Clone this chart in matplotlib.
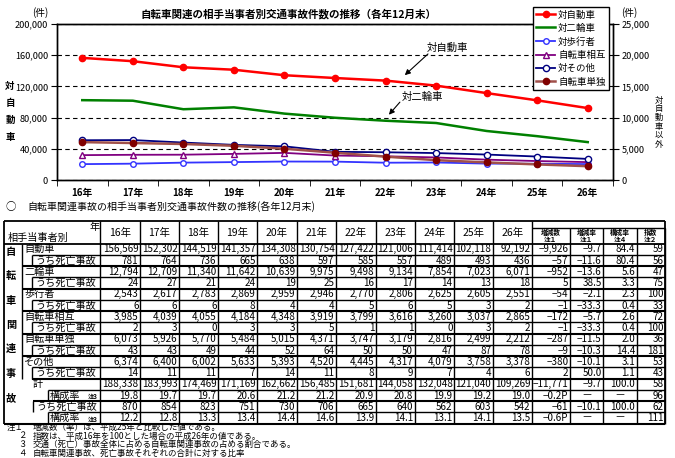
import matplotlib.pyplot as plt
import numpy as np

plt.rcParams['font.family'] = ['Noto Sans CJK JP', 'DejaVu Sans']

years = ['16年', '17年', '18年', '19年', '20年', '21年', '22年', '23年', '24年', '25年', '26年']

# accidents by partner (left axis: car, right axis: others)
car = [156569, 152302, 144519, 141357, 134308, 130754, 127422, 121006, 111414, 102118, 92192]
moto = [12794, 12709, 11340, 11642, 10639, 9975, 9498, 9134, 7854, 7023, 6071]
walker = [2543, 2617, 2783, 2869, 2959, 2946, 2770, 2806, 2625, 2605, 2551]
mutual = [3985, 4039, 4055, 4184, 4348, 3919, 3799, 3616, 3260, 3037, 2865]
other = [6374, 6400, 6002, 5633, 5393, 4520, 4445, 4317, 4079, 3758, 3378]
single = [6073, 5926, 5770, 5484, 5015, 4371, 3747, 3179, 2816, 2499, 2212]

# fatal accidents
car_dead = [781, 764, 736, 665, 638, 597, 585, 557, 489, 493, 436]
moto_dead = [24, 27, 21, 24, 19, 25, 16, 17, 14, 13, 18]
walker_dead = [6, 6, 6, 8, 4, 4, 5, 6, 5, 3, 2]
mutual_dead = [2, 3, 0, 3, 3, 5, 1, 1, 0, 3, 2]
single_dead = [43, 43, 49, 44, 52, 64, 50, 50, 47, 87, 78]
other_dead = [14, 11, 11, 7, 14, 11, 8, 9, 7, 4, 6]
total = [188338, 183993, 174469, 171169, 162662, 156485, 151681, 144058, 132048, 121040, 109269]
total_share = [19.8, 19.7, 19.7, 20.6, 21.2, 21.2, 20.9, 20.8, 19.9, 19.2, 19.0]
dead_total = [870, 854, 823, 751, 730, 706, 665, 640, 562, 603, 542]
dead_share = [12.2, 12.8, 13.3, 13.4, 14.4, 14.6, 13.9, 14.1, 13.1, 14.1, 13.5]

row_labels = ['自動車', 'うち死亡事故', '二輪車', 'うち死亡事故', '歩行者', 'うち死亡事故',
              '自転車相互', 'うち死亡事故', '自転車単独', 'うち死亡事故', 'その他', 'うち死亡事故',
              '計', '構成率', 'うち死亡事故', '構成率']
rows = [car, car_dead, moto, moto_dead, walker, walker_dead, mutual, mutual_dead,
        single, single_dead, other, other_dead, total, total_share, dead_total, dead_share]
rate_rows = [13, 15]

diff_count = [-9926, -57, -952, 5, -54, -1, -172, -1, -287, -9, -380, 2, -11771, -0.2, -61, -0.6]
diff_rate = [-9.7, -11.6, -13.6, 38.5, -2.1, -33.3, -5.7, -33.3, -11.5, -10.3, -10.1, 50.0, -9.7, None, -10.1, None]
share = [84.4, 80.4, 5.6, 3.3, 2.3, 0.4, 2.6, 0.4, 2.0, 14.4, 3.1, 1.1, 100.0, None, 100.0, None]
index = [59, 56, 47, 75, 100, 33, 72, 100, 36, 181, 53, 43, 58, 96, 62, 111]
extra_head = [('増減数', '注１'), ('増減率', '注１'), ('構成率', '注４'), ('指数', '注２')]

notes = ['注１', '２', '３', '４']
note_text = ['増減数（率）は、平成25年と比較した値である。',
             '指数は、平成16年を100とした場合の平成26年の値である。',
             '交通（死亡）事故全体に占める自転車関連事故の占める割合である。',
             '自転車関連事故、死亡事故それぞれの合計に対する比率']

fig = plt.figure(figsize=(6.75, 4.58), dpi=100)
W, H = 675, 458

# ---------------- chart ----------------
ax = fig.add_axes([57 / W, 1 - 180 / H, 556 / W, 156 / H])
x = np.arange(len(years))
l1, = ax.plot(x, car, color='#FF0000', lw=1.8, marker='o', ms=4.5, label='対自動車')
ax.set_xlim(-0.5, len(years) - 0.5)
ax.set_ylim(0, 200000)
ax.set_yticks(np.arange(0, 200001, 40000))
ax.yaxis.set_major_formatter(lambda v, p: f'{int(v):,}')
ax.grid(axis='y', color='k', ls=(0, (4, 3)), lw=0.8)
ax.set_xticks(x)
ax.set_xticklabels(years, fontsize=7, fontweight='bold')
ax.set_xticks(np.arange(-0.5, len(years), 1), minor=True)
ax.tick_params(axis='x', which='major', length=0, pad=6)
ax.tick_params(axis='x', which='minor', length=4)
ax.tick_params(axis='y', labelsize=6.6, length=4, pad=2.5)

ax2 = ax.twinx()
ax2.set_ylim(0, 25000)
ax2.set_yticks(np.arange(0, 25001, 5000))
ax2.yaxis.set_major_formatter(lambda v, p: f'{int(v):,}')
ax2.tick_params(axis='y', labelsize=6.6, length=4, pad=2)
l2, = ax2.plot(x, moto, color='#008000', lw=1.8, label='対二輪車')
l3, = ax2.plot(x, walker, color='#3333FF', lw=1.3, marker='o', ms=4, mfc='white', mew=1, label='対歩行者')
l4, = ax2.plot(x, mutual, color='#800080', lw=1.3, marker='^', ms=4, mfc='white', mew=1, label='自転車相互')
l5, = ax2.plot(x, other, color='#000080', lw=1.3, marker='o', ms=4.5, mfc='white', mew=1, label='対その他')
l6, = ax2.plot(x, single, color='#A0504A', lw=1.8, marker='o', ms=4.5, mfc='#800000', mec='#800000', label='自転車単独')
for a in (ax, ax2):
    for s in a.spines.values():
        s.set_color('k')
        s.set_linewidth(1)

ax.annotate('', xy=(6.34, 132000), xytext=(6.88, 164000),
            arrowprops=dict(arrowstyle='-|>', color='k', lw=0.8, mutation_scale=8))
ax.text(7.23, 170000, '対自動車', fontsize=7.5, ha='center', va='center')
ax.annotate('', xy=(6.03, 81000), xytext=(6.32, 102500),
            arrowprops=dict(arrowstyle='-|>', color='k', lw=0.8, mutation_scale=8))
ax.text(6.74, 106500, '対二輪車', fontsize=7.5, ha='center', va='center')

fig.legend(handles=[l1, l2, l3, l4, l5, l6], loc='upper right',
           bbox_to_anchor=(609 / W, 1 - 7 / H), fontsize=6.8, frameon=True, fancybox=False,
           edgecolor='k', framealpha=1, handlelength=2.0, handletextpad=0.3,
           labelspacing=0.45, borderpad=0.35, borderaxespad=0)

# ---------------- overlay in pixel coordinates ----------------
tab = fig.add_axes([0, 0, 1, 1])
tab.set_xlim(0, W)
tab.set_ylim(H, 0)
tab.axis('off')

tab.text(289, 14, '自転車関連の相手当事者別交通事故件数の推移（各年12月末）', fontsize=7.6,
         fontweight='bold', ha='center', va='center')
tab.text(40, 13, '(件)', fontsize=7, ha='center', va='center')
tab.text(629, 13, '(件)', fontsize=7, ha='center', va='center')
for i, ch in enumerate('対自動車'):
    tab.text(10, 86 + i * 17, ch, fontsize=6.8, ha='center', va='center', fontweight='bold')
for i, ch in enumerate('対自動車以外'):
    tab.text(659, 100 + i * 8.8, ch, fontsize=6, ha='center', va='center')

tab.text(6, 207, '○', fontsize=7.5, ha='left', va='center')
tab.text(27, 207, '自転車関連事故の相手当事者別交通事故件数の推移(各年12月末)', fontsize=7.2,
         ha='left', va='center')

# table geometry
col_edges = [100, 140, 179, 218, 257, 297, 336, 375.7, 414.7, 454, 492.7, 531.7, 570, 603.3, 636.7, 665]
t_top, h_bot, rh = 221, 243.7, 11.25
t_bot = h_bot + rh * len(row_labels)
L, R = 4, 665
lk = dict(color='k', solid_capstyle='butt')


def hline(y, x0, x1, lw=1.0):
    tab.plot([x0, x1], [y, y], lw=lw, **lk)


def vline(xv, y0, y1, lw=1.0):
    tab.plot([xv, xv], [y0, y1], lw=lw, **lk)


hline(t_top, L, R, 1.3)
hline(h_bot, L, R, 1.3)
hline(t_bot, L, R, 1.5)
vline(L, t_top, t_bot, 1.3)
vline(R, t_top, t_bot, 1.3)
hline(227.5, col_edges[11], R, 1.0)
for j, xe in enumerate(col_edges):
    vline(xe, 227.5 if j > 11 else t_top, t_bot, 1.0)

for i in range(len(row_labels)):
    y0 = h_bot + rh * i
    if i < 12:
        if i % 2 == 0:
            if i > 0:
                hline(y0, 22, R, 1.5)
        else:
            hline(y0, 32, R, 1.0)
            vline(32, y0, y0 + rh, 1.0)
    elif i == 12:
        hline(y0, 32, R, 1.5)
    elif i in (13, 15):
        hline(y0, 48, R, 1.0)
        vline(48, y0, y0 + rh, 1.0)
    else:
        hline(y0, 33, R, 1.5)
        vline(33, y0, y0 + rh, 1.0)
vline(22, h_bot, h_bot + rh * 12, 1.0)

# header
tab.text(8, 238, '相手当事者別', fontsize=7.3, ha='left', va='center')
tab.text(95, 227, '年', fontsize=7.3, ha='center', va='center')
for j, yl in enumerate(years):
    tab.text((col_edges[j] + col_edges[j + 1]) / 2, 232.5, yl, fontsize=7.5, ha='center', va='center')
for j, (a, b) in enumerate(extra_head):
    cx = (col_edges[11 + j] + col_edges[12 + j]) / 2
    tab.text(cx, 232.3, a, fontsize=4.8, ha='center', va='center', fontweight='bold')
    tab.text(cx, 239.5, b, fontsize=4.8, ha='center', va='center', fontweight='bold')

for k, ch in enumerate('自転車関連事故'):
    tab.text(11, 252 + k * 24.3, ch, fontsize=7.3, ha='center', va='center', fontweight='bold')

label_x = {12: 33, 13: 50, 14: 36, 15: 50}


def fmt(v, rate):
    if v is None:
        return '―'
    s = f'{v:.1f}' if rate else f'{v:,}'
    return s.replace('-', '−')


for i, lab in enumerate(row_labels):
    yc = h_bot + rh * i + rh / 2
    lx = label_x.get(i, 24 if i % 2 == 0 else 35)
    tab.text(lx, yc, lab, fontsize=7.3, ha='left', va='center')
    if i in rate_rows:
        tab.text(88, yc + 1, '注3', fontsize=4.5, ha='left', va='center', fontweight='bold')
    rate = i in rate_rows
    for j, v in enumerate(rows[i]):
        tab.text(col_edges[j + 1] - 1.5, yc, fmt(v, rate), fontsize=7.1, ha='right', va='center')
    dc = fmt(diff_count[i], True) + 'P' if rate else fmt(diff_count[i], False)
    extras = [dc, fmt(diff_rate[i], True), fmt(share[i], True), str(index[i])]
    for j, s in enumerate(extras):
        if s == '―':
            tab.text((col_edges[11 + j] + col_edges[12 + j]) / 2, yc, s, fontsize=6.5, ha='center', va='center')
        else:
            tab.text(col_edges[12 + j] - 1.5, yc, s, fontsize=7.1, ha='right', va='center')

for k, (n, t) in enumerate(zip(notes, note_text)):
    yy = 427 + k * 8.9
    tab.text(7 if k == 0 else 18, yy, n, fontsize=6.1, ha='left', va='center')
    tab.text(33, yy, t, fontsize=6.1, ha='left', va='center')

fig.savefig('out.png', dpi=100)
